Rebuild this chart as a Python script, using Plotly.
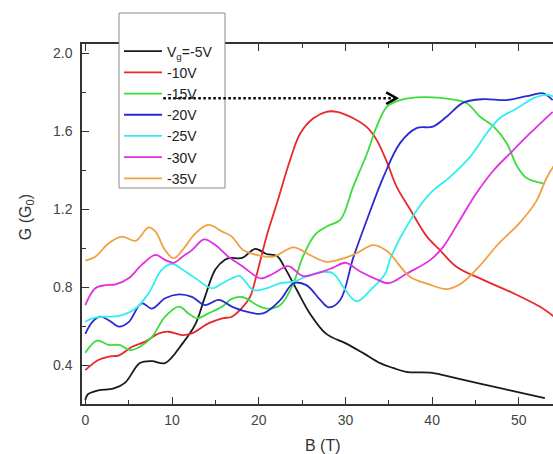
import plotly.graph_objects as go

# ---- data ----
names = ["V<sub>g</sub>=-5V", "-10V", "-15V", "-20V", "-25V", "-30V", "-35V"]
colors = ["#1a1a1a", "#e8282a", "#3cdc3c", "#2a2ad0", "#33eeee", "#e030e0", "#f0a040"]

b_5 = [0, 0.3, 1.5, 3.3, 4.6, 6.3, 7.7, 9.2, 11.2, 12.7, 13.8, 15.0, 16.1, 16.7, 18.1, 19.6, 20.9, 22.1, 23.0, 24.4, 25.9, 27.8, 30.1, 32.1, 34, 35.5, 37, 40, 42.5, 45.5, 49.5, 53]
g_5 = [0.22, 0.25, 0.27, 0.28, 0.31, 0.41, 0.42, 0.41, 0.51, 0.61, 0.75, 0.89, 0.94, 0.95, 0.95, 0.996, 0.97, 0.96, 0.90, 0.785, 0.665, 0.56, 0.51, 0.46, 0.41, 0.385, 0.365, 0.36, 0.335, 0.305, 0.265, 0.23]

b_10 = [0, 1.5, 2.7, 3.9, 5.4, 6.9, 8.5, 9.6, 11.2, 12.3, 14.2, 15.8, 16.9, 18.2, 19.0, 19.8, 20.9, 22.1, 23.6, 24.8, 26.3, 27.8, 29.0, 30.9, 32.5, 33.6, 34.8, 35.9, 37.5, 39.4, 40.9, 42.8, 45.9, 49.4, 52.4, 54]
g_10 = [0.374, 0.426, 0.443, 0.45, 0.494, 0.52, 0.563, 0.571, 0.554, 0.563, 0.614, 0.64, 0.648, 0.70, 0.75, 0.87, 1.06, 1.23, 1.45, 1.59, 1.667, 1.70, 1.70, 1.667, 1.62, 1.556, 1.44, 1.316, 1.196, 1.059, 0.99, 0.905, 0.837, 0.768, 0.70, 0.65]

b_15 = [0, 1.35, 2.7, 3.9, 5.2, 6.3, 7.7, 9.2, 10.8, 11.9, 12.9, 14.2, 15.8, 16.9, 18.2, 19.8, 20.9, 22.5, 24.0, 25.1, 26.5, 28.0, 29.4, 30.9, 32.5, 33.6, 34.8, 36.3, 39.0, 42.1, 44.0, 45.5, 47.1, 48.6, 49.8, 50.9, 52.8]
g_15 = [0.463, 0.525, 0.503, 0.503, 0.477, 0.494, 0.545, 0.648, 0.70, 0.665, 0.64, 0.665, 0.70, 0.74, 0.748, 0.708, 0.69, 0.708, 0.82, 0.956, 1.07, 1.115, 1.145, 1.316, 1.487, 1.624, 1.727, 1.76, 1.775, 1.765, 1.744, 1.676, 1.624, 1.539, 1.42, 1.36, 1.333]

b_20 = [0, 0.8, 1.7, 2.7, 3.9, 5.0, 6.5, 7.7, 9.2, 10.8, 12.3, 13.8, 15.4, 16.9, 18.6, 20.5, 22.5, 24.0, 25.5, 27.1, 28.1, 29.4, 30.9, 32.6, 34.4, 36.3, 38.2, 40.1, 41.7, 43.6, 45.9, 48.6, 50.9, 52.8, 53.9]
g_20 = [0.56, 0.62, 0.648, 0.63, 0.597, 0.62, 0.717, 0.69, 0.743, 0.763, 0.75, 0.708, 0.734, 0.70, 0.674, 0.665, 0.734, 0.82, 0.81, 0.734, 0.696, 0.734, 0.95, 1.16, 1.367, 1.539, 1.616, 1.624, 1.676, 1.747, 1.765, 1.76, 1.78, 1.795, 1.76]

b_25 = [0, 0.8, 2.0, 3.9, 5.8, 7.3, 8.8, 10.0, 11.2, 12.7, 14.6, 15.8, 16.9, 17.8, 19.4, 20.9, 22.5, 24.0, 25.9, 27.6, 28.6, 30.0, 31.3, 33.0, 34.6, 35.2, 37.5, 39.8, 42.1, 44.4, 46.3, 47.8, 49.8, 51.7, 53.2, 54]
g_25 = [0.622, 0.64, 0.648, 0.652, 0.69, 0.768, 0.888, 0.92, 0.89, 0.845, 0.794, 0.82, 0.845, 0.857, 0.785, 0.794, 0.82, 0.828, 0.862, 0.879, 0.87, 0.785, 0.727, 0.79, 0.87, 0.95, 1.145, 1.282, 1.367, 1.47, 1.59, 1.667, 1.718, 1.77, 1.787, 1.778]

b_30 = [0, 1.15, 2.3, 3.5, 5.0, 6.5, 8.1, 9.2, 10.2, 11.2, 12.3, 13.7, 15.0, 16.5, 18.2, 20.2, 21.7, 23.4, 25.1, 27.1, 28.6, 30.0, 31.7, 33.6, 35.0, 37.1, 39.8, 41.3, 43.2, 45.1, 47.1, 49.0, 51.3, 53.9]
g_30 = [0.708, 0.794, 0.81, 0.814, 0.845, 0.914, 0.965, 0.94, 0.925, 0.956, 0.99, 1.045, 1.016, 0.956, 0.905, 0.845, 0.87, 0.908, 0.857, 0.876, 0.9, 0.925, 0.88, 0.84, 0.82, 0.87, 0.94, 1.008, 1.145, 1.282, 1.40, 1.487, 1.59, 1.70]

b_35 = [0, 1.15, 2.7, 4.2, 5.8, 7.3, 8.1, 9.2, 10.2, 11.2, 12.7, 14.2, 15.8, 16.9, 18.2, 19.8, 21.7, 24.0, 25.9, 27.8, 29.8, 31.3, 33.2, 34.8, 37.4, 39.6, 41.7, 43.4, 45.5, 47.6, 50.1, 52.0, 53.2, 54]
g_35 = [0.936, 0.956, 1.025, 1.059, 1.038, 1.107, 1.085, 0.99, 0.948, 0.99, 1.076, 1.119, 1.085, 1.059, 0.99, 0.965, 0.956, 1.004, 0.965, 0.93, 0.948, 0.974, 1.016, 0.985, 0.855, 0.815, 0.79, 0.82, 0.91, 1.02, 1.13, 1.24, 1.36, 1.42]

xs = [b_5, b_10, b_15, b_20, b_25, b_30, b_35]
ys = [g_5, g_10, g_15, g_20, g_25, g_30, g_35]

# arrow (data coords)
arrow_x = [9.0, 35.9]
arrow_y = 1.77

x_ticks = [0, 10, 20, 30, 40, 50]
y_ticks = [0.4, 0.8, 1.2, 1.6, 2.0]

fig = go.Figure()
for x, y, n, c in zip(xs, ys, names, colors):
    fig.add_trace(go.Scatter(x=x, y=y, name=n, mode="lines",
                             line=dict(color=c, width=1.8, shape="spline", smoothing=1.0)))

axis_col = "#333333"
fig.update_layout(
    width=553, height=454,
    margin=dict(l=82, r=0, t=44, b=50, autoexpand=False),
    paper_bgcolor="white", plot_bgcolor="white",
    font=dict(family="Liberation Sans, Arial, sans-serif", color="#333333"),
    showlegend=True,
    legend=dict(x=0.0786, y=1.0235, xanchor="left", yanchor="top",
                bgcolor="rgba(0,0,0,0)", borderwidth=0,
                font=dict(size=14, color="#222222"), tracegroupgap=0,
                itemwidth=38),
    xaxis=dict(range=[-0.38, 53.94], tickvals=x_ticks, ticks="inside", ticklen=7,
               tickwidth=1.3, tickcolor=axis_col, showline=True, linecolor=axis_col,
               linewidth=1.5, mirror="ticks", showgrid=False, zeroline=False,
               tickfont=dict(size=14, color="#444444"), ticklabelstandoff=2,
               minor=dict(ticks="inside", ticklen=4, dtick=5, tickcolor=axis_col, showgrid=False)),
    yaxis=dict(range=[0.2, 2.048], tickvals=y_ticks, tickformat=".1f", ticks="inside", ticklen=7,
               tickwidth=1.3, tickcolor=axis_col, showline=True, linecolor=axis_col,
               linewidth=1.5, showgrid=False, zeroline=False,
               tickfont=dict(size=14, color="#444444"), ticklabelstandoff=5,
               minor=dict(ticks="inside", ticklen=4, dtick=0.2, tickcolor=axis_col, showgrid=False)),
)

# legend frame (covers the top axis line like the reference)
fig.add_shape(type="rect", xref="paper", yref="paper",
              x0=(119 - 82) / 471, x1=(225 - 82) / 471,
              y0=(404 - 188) / 360, y1=(404 - 13) / 360,
              line=dict(color="#888888", width=1), fillcolor="white", layer="above")

# axis titles
fig.add_annotation(text="B (T)", xref="paper", yref="paper", x=0.512, y=-0.085,
                   yanchor="top", showarrow=False, font=dict(size=16, color="#333333"))
fig.add_annotation(text="G (G<sub>0</sub>)", xref="paper", yref="paper", x=-0.118, y=0.52,
                   xanchor="center", textangle=-90, showarrow=False,
                   font=dict(size=16, color="#333333"))

# dotted arrow
fig.add_shape(type="line", x0=arrow_x[0], x1=arrow_x[1] - 0.2, y0=arrow_y, y1=arrow_y,
              line=dict(color="black", width=2.5, dash="2.5px,2.5px"), layer="above")
fig.add_shape(type="path",
              path=f"M {arrow_x[1]-1.2},{arrow_y+0.03} L {arrow_x[1]},{arrow_y} L {arrow_x[1]-1.2},{arrow_y-0.03}",
              line=dict(color="black", width=2.5), layer="above")

fig.write_html("out.html", config={"displayModeBar": False},
               post_script="document.body.style.margin='0';document.body.style.overflow='hidden';")
